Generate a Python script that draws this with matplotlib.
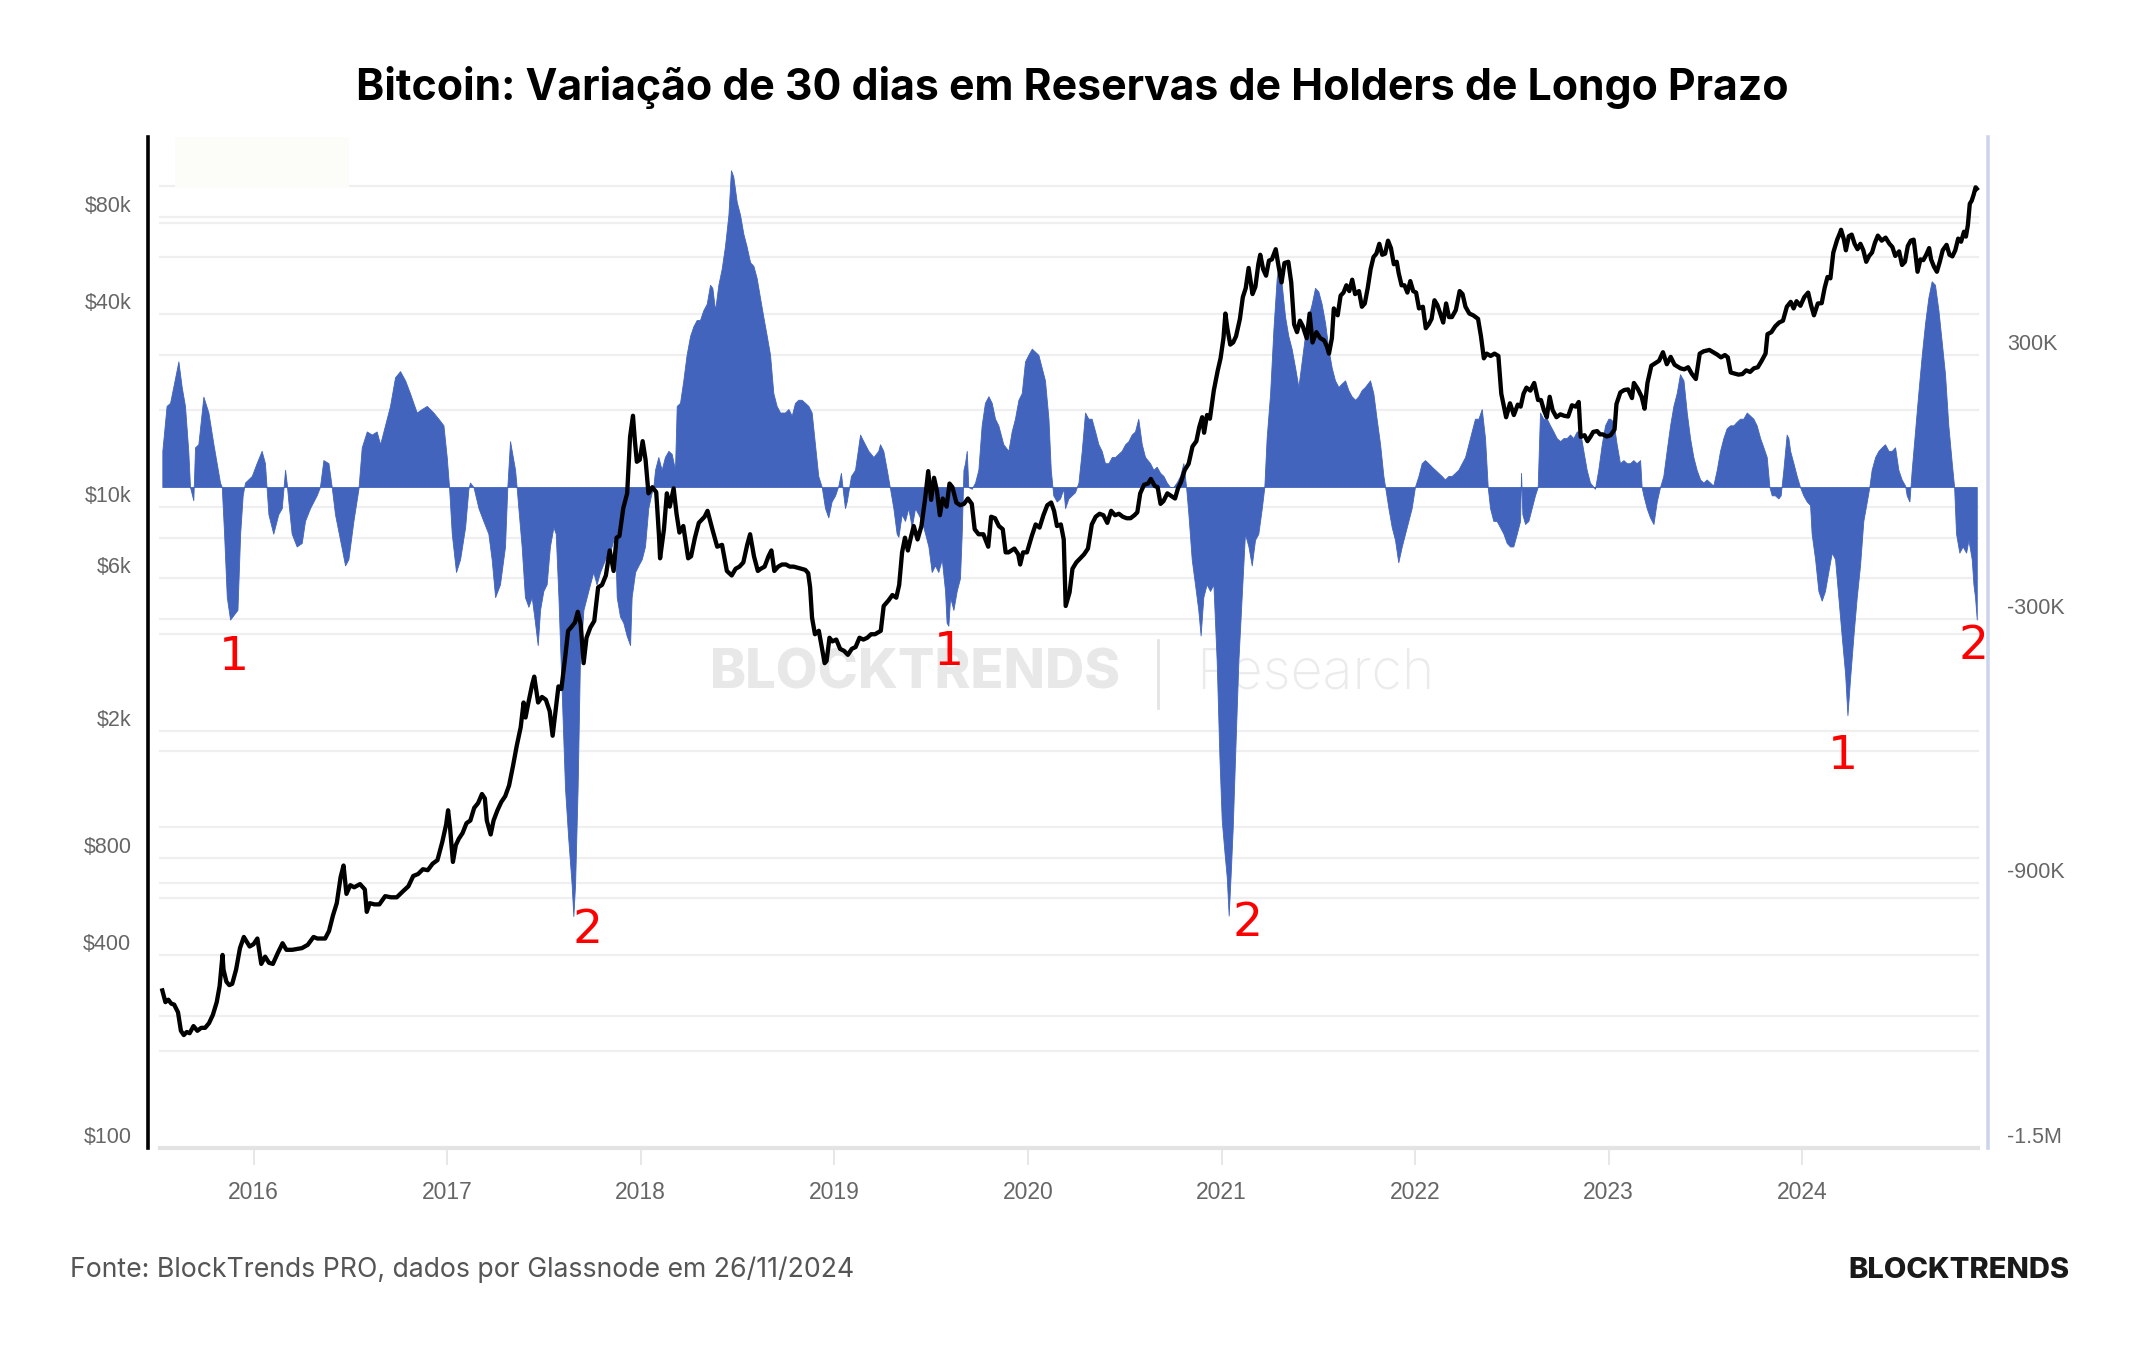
import matplotlib
matplotlib.use("Agg")
import matplotlib.pyplot as plt
from matplotlib.transforms import ScaledTranslation, blended_transform_factory
from matplotlib.patches import Rectangle
from matplotlib.ticker import NullLocator

plt.rcParams["font.family"] = ["Liberation Sans", "DejaVu Sans"]

# ---------------- text ----------------
TITLE = "Bitcoin: Variação de 30 dias em Reservas de Holders de Longo Prazo"
SOURCE = "Fonte: BlockTrends PRO, dados por Glassnode em 26/11/2024"
BRAND = "BLOCKTRENDS"
WM_LEFT = "BLOCKTRENDS"
WM_RIGHT = "Research"

# ---------------- axes ticks ----------------
YEAR_TICKS = [2016, 2017, 2018, 2019, 2020, 2021, 2022, 2023, 2024]
PRICE_TICKS = [100, 400, 800, 2000, 6000, 10000, 40000, 80000]
PRICE_TICK_LABELS = ["$100", "$400", "$800", "$2k", "$6k", "$10k", "$40k", "$80k"]
PRICE_GRID = [100, 200, 400, 600, 800, 1000, 2000, 4000, 6000, 8000, 10000,
              20000, 40000, 60000, 80000, 100000]
LTH_TICKS = [-1500000, -900000, -300000, 300000]
LTH_TICK_LABELS = ["-1.5M", "-900K", "-300K", "300K"]
LTH_GRID = [-1500000, -1200000, -900000, -600000, -300000, 300000, 600000]

# ---------------- BTC price (decimal year, USD) ----------------
price_t = [
    2015.529, 2015.545, 2015.56, 2015.575, 2015.59, 2015.61, 2015.625, 2015.64, 2015.655, 2015.67,
    2015.69, 2015.71, 2015.73, 2015.75, 2015.77, 2015.79, 2015.81, 2015.825, 2015.84, 2015.845,
    2015.86, 2015.875, 2015.89, 2015.91, 2015.93, 2015.95, 2015.965, 2015.98, 2016.0, 2016.02,
    2016.04, 2016.06, 2016.08, 2016.10, 2016.125, 2016.15, 2016.17, 2016.2, 2016.23, 2016.25,
    2016.28, 2016.31, 2016.33, 2016.37, 2016.39, 2016.41, 2016.43, 2016.45, 2016.465, 2016.48,
    2016.50, 2016.52, 2016.55, 2016.575, 2016.585, 2016.6, 2016.625, 2016.65, 2016.68, 2016.71,
    2016.74, 2016.77, 2016.80, 2016.825, 2016.85, 2016.875, 2016.9, 2016.925, 2016.95, 2016.975,
    2016.995, 2017.005, 2017.015, 2017.03, 2017.045, 2017.06, 2017.08, 2017.1, 2017.12, 2017.14,
    2017.16, 2017.18, 2017.195, 2017.205, 2017.225, 2017.24, 2017.26, 2017.28, 2017.30, 2017.32,
    2017.34, 2017.36, 2017.38, 2017.395, 2017.405, 2017.42, 2017.44, 2017.45, 2017.47, 2017.49,
    2017.51, 2017.53, 2017.545, 2017.56, 2017.575, 2017.59, 2017.61, 2017.625, 2017.64, 2017.66,
    2017.675, 2017.69, 2017.705, 2017.72, 2017.74, 2017.76, 2017.78, 2017.8, 2017.82, 2017.84,
    2017.86, 2017.875, 2017.89, 2017.91, 2017.93, 2017.945, 2017.96, 2017.97, 2017.98, 2017.995,
    2018.01, 2018.025, 2018.04, 2018.06, 2018.08, 2018.095, 2018.1, 2018.12, 2018.135, 2018.15,
    2018.17, 2018.185, 2018.2, 2018.22, 2018.245, 2018.26, 2018.28, 2018.3, 2018.33, 2018.345,
    2018.37, 2018.395, 2018.42, 2018.445, 2018.47, 2018.49, 2018.51, 2018.53, 2018.55, 2018.565,
    2018.585, 2018.605, 2018.62, 2018.64, 2018.66, 2018.675, 2018.69, 2018.71, 2018.73, 2018.75,
    2018.77, 2018.79, 2018.81, 2018.83, 2018.85, 2018.865, 2018.875, 2018.885, 2018.9, 2018.92,
    2018.93, 2018.95, 2018.96, 2018.975, 2018.99, 2019.01, 2019.03, 2019.05, 2019.07, 2019.09,
    2019.11, 2019.13, 2019.15, 2019.17, 2019.19, 2019.21, 2019.24, 2019.255, 2019.28, 2019.30,
    2019.32, 2019.335, 2019.35, 2019.365, 2019.38, 2019.395, 2019.41, 2019.43, 2019.45, 2019.47,
    2019.485, 2019.5, 2019.515, 2019.53, 2019.545, 2019.56, 2019.58, 2019.595, 2019.61, 2019.63,
    2019.65, 2019.67, 2019.69, 2019.71, 2019.725, 2019.745, 2019.77, 2019.795, 2019.81, 2019.83,
    2019.85, 2019.87, 2019.885, 2019.9, 2019.93, 2019.95, 2019.96, 2019.975, 2019.995, 2020.02,
    2020.04, 2020.06, 2020.08, 2020.1, 2020.12, 2020.135, 2020.15, 2020.17, 2020.185, 2020.195,
    2020.215, 2020.23, 2020.25, 2020.27, 2020.29, 2020.31, 2020.33, 2020.35, 2020.37, 2020.39,
    2020.41, 2020.43, 2020.45, 2020.47, 2020.49, 2020.51, 2020.53, 2020.55, 2020.565, 2020.58,
    2020.6, 2020.62, 2020.635, 2020.655, 2020.67, 2020.685, 2020.7, 2020.72, 2020.74, 2020.76,
    2020.775, 2020.79, 2020.81, 2020.83, 2020.85, 2020.87, 2020.885, 2020.9, 2020.91, 2020.925,
    2020.94, 2020.96, 2020.98, 2020.995, 2021.01, 2021.02, 2021.03, 2021.045, 2021.06, 2021.075,
    2021.095, 2021.11, 2021.125, 2021.14, 2021.16, 2021.175, 2021.19, 2021.2, 2021.215, 2021.23,
    2021.245, 2021.26, 2021.28, 2021.295, 2021.31, 2021.325, 2021.345, 2021.36, 2021.375, 2021.39,
    2021.405, 2021.42, 2021.44, 2021.455, 2021.47, 2021.49, 2021.51, 2021.53, 2021.545, 2021.555,
    2021.57, 2021.58, 2021.6, 2021.615, 2021.63, 2021.645, 2021.66, 2021.675, 2021.69, 2021.71,
    2021.725, 2021.74, 2021.755, 2021.77, 2021.785, 2021.80, 2021.815, 2021.83, 2021.845, 2021.86,
    2021.875, 2021.89, 2021.905, 2021.915, 2021.93, 2021.945, 2021.96, 2021.975, 2021.99, 2022.005,
    2022.02, 2022.04, 2022.055, 2022.07, 2022.085, 2022.1, 2022.115, 2022.13, 2022.145, 2022.16,
    2022.175, 2022.19, 2022.21, 2022.23, 2022.245, 2022.26, 2022.28, 2022.3, 2022.325, 2022.34,
    2022.355, 2022.37, 2022.39, 2022.41, 2022.43, 2022.445, 2022.46, 2022.47, 2022.49, 2022.51,
    2022.53, 2022.545, 2022.56, 2022.575, 2022.595, 2022.615, 2022.635, 2022.65, 2022.665, 2022.68,
    2022.695, 2022.71, 2022.73, 2022.75, 2022.77, 2022.79, 2022.81, 2022.83, 2022.845, 2022.855,
    2022.875, 2022.89, 2022.905, 2022.92, 2022.94, 2022.955, 2022.97, 2022.99, 2023.01, 2023.03,
    2023.04, 2023.06, 2023.08, 2023.1, 2023.12, 2023.13, 2023.15, 2023.17, 2023.185, 2023.2,
    2023.22, 2023.24, 2023.26, 2023.28, 2023.3, 2023.32, 2023.34, 2023.37, 2023.39, 2023.41,
    2023.43, 2023.45, 2023.47, 2023.49, 2023.52, 2023.54, 2023.56, 2023.58, 2023.6, 2023.615,
    2023.63, 2023.65, 2023.67, 2023.69, 2023.71, 2023.73, 2023.75, 2023.77, 2023.79, 2023.81,
    2023.82, 2023.84, 2023.86, 2023.88, 2023.9, 2023.92, 2023.94, 2023.955, 2023.97, 2023.99,
    2024.01, 2024.03, 2024.045, 2024.06, 2024.08, 2024.1, 2024.115, 2024.13, 2024.145, 2024.16,
    2024.18, 2024.195, 2024.2, 2024.215, 2024.225, 2024.24, 2024.255, 2024.27, 2024.285, 2024.3,
    2024.315, 2024.33, 2024.345, 2024.36, 2024.375, 2024.39, 2024.41, 2024.43, 2024.45, 2024.465,
    2024.48, 2024.5, 2024.515, 2024.53, 2024.545, 2024.56, 2024.575, 2024.585, 2024.595, 2024.61,
    2024.625, 2024.64, 2024.655, 2024.665, 2024.68, 2024.695, 2024.71, 2024.725, 2024.745, 2024.76,
    2024.775, 2024.79, 2024.805, 2024.82, 2024.835, 2024.845, 2024.855, 2024.865, 2024.875, 2024.885,
    2024.895, 2024.901,
]
price_usd = [
    310, 285, 290, 282, 280, 265, 232, 225, 230, 228,
    240, 232, 237, 237, 245, 260, 285, 320, 400, 360,
    330, 322, 325, 360, 420, 455, 440, 425, 432, 450,
    375, 395, 378, 375, 405, 435, 415, 415, 418, 420,
    430, 455, 450, 450, 475, 530, 580, 700, 760, 620,
    660, 650, 665, 640, 545, 580, 575, 575, 610, 605,
    605, 630, 655, 705, 715, 740, 735, 770, 790, 900,
    1020, 1130, 1000, 780, 880, 920, 960, 1030, 1050, 1150,
    1190, 1270, 1230, 1050, 950, 1050, 1130, 1200, 1250, 1350,
    1550, 1800, 2050, 2450, 2200, 2450, 2800, 2950, 2450, 2550,
    2500, 2300, 1930, 2300, 2750, 2700, 3400, 4100, 4200, 4350,
    4700, 4300, 3250, 3900, 4200, 4400, 5600, 5700, 6100, 7300,
    6300, 8000, 8100, 9900, 11000, 16500, 19200, 16000, 13800, 14000,
    16000, 14000, 11000, 11500, 11100, 8000, 6900, 8500, 11000, 10000,
    11400, 9500, 8300, 8700, 6900, 7000, 8000, 8900, 9300, 9700,
    8500, 7500, 7600, 6300, 6100, 6400, 6500, 6700, 7600, 8200,
    7000, 6300, 6400, 6500, 7000, 7300, 6300, 6500, 6600, 6600,
    6500, 6500, 6450, 6400, 6350, 6200, 5600, 4500, 4000, 4100,
    3800, 3250, 3300, 3900, 3800, 3850, 3600, 3550, 3450, 3600,
    3650, 3900, 3850, 3900, 4000, 4000, 4100, 4900, 5100, 5300,
    5200, 5700, 7200, 8000, 7300, 8000, 8700, 7900, 8700, 10700,
    12900, 10500, 12300, 11200, 9400, 10600, 10000, 11800, 11500, 10300,
    10100, 10200, 10600, 10200, 8500, 8200, 8200, 7500, 9300, 9200,
    8700, 8500, 7200, 7200, 7400, 7100, 6600, 7200, 7200, 8100,
    8800, 8600, 9400, 10100, 10300, 9700, 8700, 8800, 7900, 4900,
    5400, 6400, 6700, 6900, 7100, 7400, 8800, 9300, 9500, 9400,
    8900, 9700, 9400, 9500, 9300, 9200, 9200, 9400, 9600, 11000,
    11700, 11800, 12200, 11600, 11500, 10200, 10400, 11000, 10800, 10600,
    11400, 11900, 13000, 13600, 15400, 16000, 17700, 19000, 17000, 19300,
    18800, 23000, 26500, 29000, 33500, 40000, 36000, 32000, 32500, 34000,
    38500, 45000, 48000, 55500, 46000, 48500, 57000, 61000, 55000, 52500,
    58500, 59000, 63500, 56000, 50000, 57500, 58000, 50000, 37000, 35000,
    38000, 36500, 33500, 40000, 32500, 35000, 33500, 33000, 31500, 30000,
    33500, 41500, 39500, 45500, 46500, 49000, 47000, 51000, 46000, 47000,
    42000, 43000, 48000, 55000, 60000, 61500, 66000, 61000, 61500, 67500,
    64000, 57000, 58000, 53500, 49000, 49000, 46500, 50500, 47000, 46500,
    41500, 42000, 36000, 37000, 38500, 44000, 42500, 40000, 37500, 43000,
    39000, 39000, 41000, 47000, 46000, 42000, 40000, 39500, 38500, 34000,
    29000, 30000, 29500, 30000, 29500, 22500, 20300, 19000, 21000, 19300,
    20800, 20500, 22500, 23500, 23000, 24300, 21500, 21500, 20000, 19000,
    22000, 20000, 19000, 19400, 19200, 19100, 20700, 20500, 21200, 16500,
    16700, 16000, 16500, 17100, 17200, 16800, 16800, 16550, 16700, 17400,
    20900, 22700, 23100, 23200, 21800, 24300, 23300, 22000, 20200, 24300,
    27500, 28000, 28500, 30300, 27800, 29300, 27700, 27000, 26800, 27200,
    25900, 25000, 30000, 30500, 30800, 30300, 29800, 29200, 29700, 29200,
    26200, 26000, 25800, 25900, 26600, 26300, 27000, 27200, 28500, 30000,
    34500, 35000, 36500, 37500, 38000, 42000, 43500, 41500, 43700, 42300,
    45000, 46500, 42500, 39500, 43000, 43100, 48000, 52000, 51500, 62000,
    68000, 71500, 73000, 68000, 63000, 69700, 70500, 66000, 63500, 66000,
    63000, 58000, 60500, 62000, 66500, 70000, 67500, 69000, 66000, 64500,
    60500, 62500, 56700, 58000, 65000, 67500, 68000, 61000, 54000, 59000,
    58700, 61000, 64000, 59000, 56000, 54000, 58000, 63000, 65500, 61000,
    60300, 63000, 68500, 67000, 72000, 69500, 75500, 88000, 90000, 94000,
    99000, 98000,
]

# ---------------- LTH 30-day net position change (decimal year, BTC) ----------------
lth_t = [
    2015.529, 2015.551, 2015.569, 2015.612, 2015.629, 2015.646, 2015.663, 2015.672, 2015.689, 2015.698,
    2015.715, 2015.741, 2015.767, 2015.793, 2015.827, 2015.836, 2015.848, 2015.862, 2015.879, 2015.917,
    2015.931, 2015.944, 2015.956, 2015.991, 2016.016, 2016.042, 2016.059, 2016.068, 2016.077, 2016.102,
    2016.128, 2016.146, 2016.163, 2016.171, 2016.180, 2016.197, 2016.223, 2016.249, 2016.266, 2016.292,
    2016.326, 2016.343, 2016.361, 2016.387, 2016.404, 2016.421, 2016.447, 2016.473, 2016.490, 2016.516,
    2016.542, 2016.559, 2016.585, 2016.611, 2016.636, 2016.654, 2016.688, 2016.705, 2016.731, 2016.757,
    2016.783, 2016.808, 2016.843, 2016.869, 2016.895, 2016.929, 2016.955, 2016.981, 2016.998, 2017.010,
    2017.024, 2017.046, 2017.067, 2017.093, 2017.110, 2017.118, 2017.136, 2017.162, 2017.187, 2017.213,
    2017.230, 2017.248, 2017.273, 2017.299, 2017.311, 2017.325,
    2017.351, 2017.359, 2017.368, 2017.385, 2017.402, 2017.420, 2017.437, 2017.454, 2017.468, 2017.480,
    2017.497, 2017.514, 2017.531, 2017.549, 2017.561, 2017.575, 2017.592, 2017.609, 2017.626, 2017.643,
    2017.652, 2017.661, 2017.674, 2017.686, 2017.704, 2017.721, 2017.738, 2017.755, 2017.772, 2017.790,
    2017.816, 2017.841, 2017.867, 2017.876, 2017.893, 2017.910, 2017.927, 2017.945, 2017.953, 2017.971,
    2017.988, 2018.005, 2018.022, 2018.039, 2018.053, 2018.065, 2018.074, 2018.091, 2018.108, 2018.125,
    2018.143, 2018.160, 2018.177, 2018.186, 2018.203, 2018.220, 2018.237, 2018.255, 2018.272, 2018.289,
    2018.306, 2018.323, 2018.341, 2018.358, 2018.370, 2018.384, 2018.401, 2018.418, 2018.435, 2018.453,
    2018.466, 2018.478, 2018.496, 2018.513, 2018.530, 2018.547, 2018.565, 2018.582, 2018.599, 2018.616,
    2018.633, 2018.651, 2018.668, 2018.685, 2018.702, 2018.720, 2018.745, 2018.763, 2018.780, 2018.797,
    2018.814, 2018.831, 2018.849, 2018.866, 2018.883, 2018.900, 2018.917, 2018.935, 2018.952, 2018.969,
    2018.986, 2019.004, 2019.021, 2019.034, 2019.047, 2019.055, 2019.064, 2019.072, 2019.086, 2019.107,
    2019.133, 2019.150, 2019.176, 2019.202, 2019.227,
    2019.236, 2019.253, 2019.271, 2019.288, 2019.305, 2019.322, 2019.331, 2019.348, 2019.365, 2019.382,
    2019.400, 2019.417, 2019.434, 2019.451, 2019.469, 2019.486, 2019.503, 2019.520, 2019.537, 2019.555,
    2019.572, 2019.580, 2019.589, 2019.598, 2019.615, 2019.632, 2019.649, 2019.658, 2019.667, 2019.675,
    2019.684, 2019.692, 2019.710, 2019.727, 2019.744, 2019.761, 2019.778, 2019.796, 2019.813, 2019.830,
    2019.847, 2019.873, 2019.899, 2019.916, 2019.933, 2019.951, 2019.968, 2019.985, 2020.002, 2020.020,
    2020.037, 2020.054, 2020.071, 2020.088, 2020.106, 2020.118, 2020.131, 2020.149, 2020.166, 2020.183,
    2020.192, 2020.209, 2020.226, 2020.243, 2020.261, 2020.278, 2020.295, 2020.312, 2020.329, 2020.347,
    2020.364, 2020.381, 2020.398, 2020.416, 2020.433, 2020.450, 2020.467, 2020.484, 2020.502, 2020.519,
    2020.536, 2020.553, 2020.570, 2020.579, 2020.588, 2020.605, 2020.631, 2020.648, 2020.665, 2020.683,
    2020.700, 2020.717, 2020.734, 2020.751, 2020.768, 2020.786, 2020.803, 2020.817, 2020.829, 2020.846,
    2020.863, 2020.880, 2020.892, 2020.906, 2020.923, 2020.941, 2020.958, 2020.975, 2020.989, 2021.001,
    2021.015, 2021.027, 2021.037, 2021.048, 2021.058, 2021.070, 2021.087, 2021.104,
    2021.121, 2021.139, 2021.156, 2021.173, 2021.190, 2021.208, 2021.221, 2021.233, 2021.251, 2021.268,
    2021.285, 2021.294, 2021.311, 2021.328, 2021.345, 2021.362, 2021.380, 2021.397, 2021.414, 2021.431,
    2021.449, 2021.466, 2021.483, 2021.500, 2021.517, 2021.535, 2021.552, 2021.569, 2021.586, 2021.604,
    2021.621, 2021.638, 2021.655, 2021.672, 2021.690, 2021.707, 2021.724, 2021.741, 2021.767, 2021.784,
    2021.801, 2021.819, 2021.836, 2021.845, 2021.862, 2021.879, 2021.896, 2021.913, 2021.931, 2021.948,
    2021.965, 2021.982, 2021.999, 2022.017, 2022.034, 2022.051, 2022.068, 2022.086, 2022.103, 2022.120,
    2022.137, 2022.154, 2022.172, 2022.189, 2022.206, 2022.223, 2022.241, 2022.258, 2022.275, 2022.292,
    2022.309, 2022.327, 2022.344, 2022.361, 2022.375, 2022.387, 2022.404, 2022.421, 2022.438, 2022.456,
    2022.473, 2022.490, 2022.507, 2022.525, 2022.542, 2022.547, 2022.554, 2022.568, 2022.585, 2022.602,
    2022.619, 2022.633, 2022.645, 2022.662, 2022.680, 2022.697, 2022.714, 2022.731, 2022.749, 2022.766,
    2022.783, 2022.800, 2022.817, 2022.835, 2022.852, 2022.869, 2022.886, 2022.903, 2022.929, 2022.946,
    2022.964, 2022.981, 2022.998,
    2023.007, 2023.024, 2023.041, 2023.058, 2023.076, 2023.093, 2023.110, 2023.127, 2023.144, 2023.162,
    2023.170, 2023.179, 2023.196, 2023.213, 2023.231, 2023.248, 2023.265, 2023.282, 2023.299, 2023.317,
    2023.334, 2023.351, 2023.368, 2023.386, 2023.403, 2023.420, 2023.437, 2023.454, 2023.472, 2023.489,
    2023.506, 2023.523, 2023.540, 2023.558, 2023.575, 2023.592, 2023.609, 2023.627, 2023.644, 2023.661,
    2023.678, 2023.695, 2023.713, 2023.730, 2023.747, 2023.764, 2023.782, 2023.799, 2023.816, 2023.830,
    2023.842, 2023.859, 2023.876, 2023.888, 2023.902, 2023.919, 2023.928, 2023.937, 2023.954, 2023.971,
    2023.988, 2024.005, 2024.023, 2024.040, 2024.048, 2024.066, 2024.083, 2024.100, 2024.117, 2024.134,
    2024.152, 2024.169, 2024.186, 2024.203, 2024.221, 2024.233, 2024.246, 2024.264, 2024.281, 2024.298,
    2024.315, 2024.333, 2024.346, 2024.358, 2024.376, 2024.393, 2024.410, 2024.427, 2024.445, 2024.462,
    2024.479, 2024.496, 2024.513, 2024.531, 2024.539, 2024.553, 2024.565, 2024.582, 2024.599, 2024.617,
    2024.634, 2024.651, 2024.668, 2024.685, 2024.703, 2024.720, 2024.737, 2024.754, 2024.772, 2024.784,
    2024.794, 2024.811, 2024.828, 2024.846, 2024.858, 2024.875, 2024.884, 2024.892, 2024.901,
]
lth_change_k = [
    82, 184, 191, 285, 227, 184, 82, 0, -30, 90,
    97, 205, 169, 97, 10, 0, -106, -250, -301, -279,
    -106, -19, 10, 25, 54, 82, 54, -4, -62, -106,
    -62, -48, 39, 10, -33, -106, -135, -127, -77, -48,
    -19, 0, 61, 54, 0, -62, -120, -178, -164, -77,
    -4, 90, 126, 119, 126, 97, 155, 184, 249, 263,
    242, 213, 169, 177, 184, 169, 155, 140, 68, 0,
    -106, -193, -164, -91, -4, 10, 0, -48, -77, -106,
    -164, -250, -221, -135, 0, 104,
    39, 0, -48, -135, -250, -272, -250, -308, -359, -279,
    -236, -221, -135, -91, -106, -250, -467, -684, -800, -901,
    -974, -901, -684, -395, -279, -250, -221, -193, -221, -193,
    -164, -149, -106, -250, -294, -308, -337, -359, -250, -193,
    -178, -164, -135, -48, -19, 0, 39, 68, 39, 68,
    82, 75, 39, 184, 191, 242, 300, 343, 365, 379,
    379, 401, 416, 459, 452, 401, 459, 495, 546, 618,
    719, 705, 647, 618, 575, 546, 510, 502, 474, 430,
    387, 343, 300, 213, 184, 169, 169, 177, 162, 191,
    198, 198, 191, 184, 169, 97, 25, 0, -48, -69,
    -33, -19, 3, 32, -19, -48, -33, -12, 25, 39,
    119, 104, 82, 68, 82,
    97, 82, 39, -4, -48, -106, -113, -62, -77, -48,
    -91, -48, -62, -77, -106, -135, -193, -178, -193, -164,
    -236, -308, -315, -250, -279, -236, -207, -106, 39, 54,
    82, 0, -4, 10, 39, 140, 191, 206, 191, 155,
    140, 97, 82, 126, 155, 198, 213, 285, 300, 314,
    307, 300, 271, 242, 155, 39, -19, -33, -26, -4,
    -48, -26, -19, -12, 10, 82, 169, 155, 155, 126,
    97, 82, 54, 54, 68, 68, 75, 82, 97, 104,
    119, 126, 155, 126, 97, 68, 54, 39, 46, 32,
    25, 10, 0, 0, 10, 25, 54, 0, -62, -164,
    -221, -279, -337, -250, -221, -236, -221, -395, -612, -756,
    -828, -886, -973, -872, -771, -612, -395, -250,
    -106, -135, -178, -120, -106, -48, 0, 111, 213, 358,
    474, 500, 459, 387, 343, 314, 271, 227, 285, 343,
    387, 416, 452, 444, 416, 372, 314, 271, 242, 227,
    235, 242, 220, 206, 198, 206, 220, 227, 242, 213,
    155, 97, 25, 0, -48, -91, -120, -171, -135, -106,
    -77, -48, 0, 25, 54, 61, 54, 46, 39, 32,
    25, 17, 25, 25, 32, 39, 54, 68, 97, 126,
    155, 155, 177, 111, 0, -48, -77, -77, -91, -106,
    -127, -135, -135, -106, -77, 32, -62, -84, -77, -48,
    -19, 0, 169, 155, 155, 140, 126, 111, 104, 111,
    111, 119, 111, 126, 126, 82, 39, 10, -4, 39,
    97, 140, 155,
    155, 148, 97, 54, 61, 54, 54, 61, 54, 61,
    0, -19, -48, -69, -84, -33, 0, 25, 82, 140,
    184, 213, 256, 242, 169, 111, 68, 39, 17, 10,
    17, 10, 3, 39, 82, 111, 133, 140, 140, 148,
    155, 155, 169, 162, 155, 140, 111, 90, 68, 0,
    -19, -19, -26, -19, 39, 119, 111, 82, 54, 25,
    0, -19, -33, -41, -106, -164, -236, -258, -236, -193,
    -149, -164, -250, -337, -424, -518, -438, -337, -250, -178,
    -77, -33, 0, 39, 68, 82, 90, 97, 82, 82,
    90, 39, 17, 3, -19, -33, 39, 126, 213, 300,
    372, 430, 467, 459, 401, 329, 256, 140, 54, 0,
    -106, -149, -135, -149, -120, -164, -222, -250, -301,
]
lth_change = [v * 1000 for v in lth_change_k]

# ---------------- figure geometry (pixels of the 2144x1350 canvas) ----------------
W, H = 2144, 1350
L, R, T, B = 148, 1988, 137, 1148
BLUE = "#4264bc"
GRID = "#efefef"
TICKC = "#666666"

fig = plt.figure(figsize=(W / 100, H / 100), dpi=100, facecolor="white")
ax = fig.add_axes([L / W, 1 - B / H, (R - L) / W, (B - T) / H])
ax2 = ax.twinx()

ax.set_xlim(2015.455, 2024.959)
ax.set_ylim(-1500600, 794500)
ax2.set_yscale("log")
ax2.set_ylim(100, 142100)

# grid lines (drawn under the bars)
for v in LTH_GRID:
    ax.plot([0.0065, 0.9948], [v, v], transform=blended_transform_factory(ax.transAxes, ax.transData),
            color=GRID, lw=1.6, zorder=0.5)
ptrans = blended_transform_factory(ax.transAxes, ax2.transData)
for p in PRICE_GRID:
    ax.plot([0.0065, 0.9948], [p, p], transform=ptrans, color=GRID, lw=1.6, zorder=0.5)

# faint legend box remnant
ax.add_patch(Rectangle((0.0147, 0.9505), 0.0946, 0.0495, transform=ax.transAxes,
                       facecolor="#fcfcf9", edgecolor="none", zorder=0.6))

# watermark
ax.text(0.5288, 0.469, WM_LEFT, transform=ax.transAxes, ha="right", va="center",
        fontsize=39, fontweight="heavy", family=["Inter", "DejaVu Sans"], color="#e8e8e8", zorder=1)
ax.plot([0.549, 0.549], [0.435, 0.502], transform=ax.transAxes, color="#e4e4e4", lw=2, zorder=1)
ax.text(0.5696, 0.469, WM_RIGHT, transform=ax.transAxes, ha="left", va="center",
        fontsize=40, fontweight="light", family=["Inter", "DejaVu Sans"], color="#ebebeb", zorder=1)

# LTH 30d change
ax.fill_between(lth_t, 0, lth_change, facecolor=BLUE, edgecolor=BLUE, lw=0.6, zorder=2)

# red markers
for lbl, x, y in [("1", 2015.90, -388e3), ("2", 2017.727, -1006e3), ("1", 2019.592, -375e3),
                  ("2", 2021.137, -992e3), ("1", 2024.210, -611e3), ("2", 2024.882, -363e3)]:
    ax.text(x, y, lbl, ha="center", va="center", color="#ff0000", fontsize=34,
            family="DejaVu Sans", zorder=5)

# BTC price
ax2.plot(price_t, price_usd, color="black", lw=3.1, solid_joinstyle="round", zorder=3)

# axes / ticks
ax.yaxis.tick_right()
ax2.yaxis.tick_left()
ax.set_yticks(LTH_TICKS, LTH_TICK_LABELS)
ax2.set_yticks(PRICE_TICKS, PRICE_TICK_LABELS)
ax2.yaxis.set_minor_locator(NullLocator())
ax.tick_params(axis="y", length=0, pad=13.5, labelsize=15.5, labelcolor=TICKC)
ax2.tick_params(axis="y", which="both", length=0, pad=12, labelsize=15.5, labelcolor=TICKC)
ax.set_xticks(YEAR_TICKS, [str(y) for y in YEAR_TICKS])
ax.tick_params(axis="x", length=12, width=1.2, color="#e3e3e3", labelsize=16.5,
               labelcolor=TICKC, pad=12)

shift = ScaledTranslation(0, 13 / 100, fig.dpi_scale_trans)
for lab in ax.get_yticklabels() + ax2.get_yticklabels():
    lab.set_transform(lab.get_transform() + shift)

for s in ["top", "left", "right", "bottom"]:
    ax.spines[s].set_visible(False)
ax2.spines["top"].set_visible(False)
ax2.spines["bottom"].set_visible(False)
ax2.spines["left"].set_color("black")
ax2.spines["left"].set_linewidth(2.6)
ax2.spines["right"].set_color("#ccd6eb")
ax2.spines["right"].set_linewidth(2.6)
ax.plot([0.0065, 0.9948], [0, 0], transform=ax.transAxes, color="#e3e3e3", lw=3,
        clip_on=False, zorder=0.7)

# titles / footer
fig.text(0.5, 1 - 87.5 / H, TITLE, ha="center", va="center", fontsize=30.8, fontweight="bold",
         family=["Inter", "DejaVu Sans"], color="black")
fig.text(70 / W, 1 - 1270 / H, SOURCE, ha="left", va="center", fontsize=19.2,
         family=["Inter", "DejaVu Sans"], color="#555555")
fig.text(2069 / W, 1 - 1270 / H, BRAND, ha="right", va="center", fontsize=21, fontweight="heavy",
         family=["Inter", "DejaVu Sans"], color="#1a1a1a")

fig.savefig("out.png", dpi=100, facecolor="white")
